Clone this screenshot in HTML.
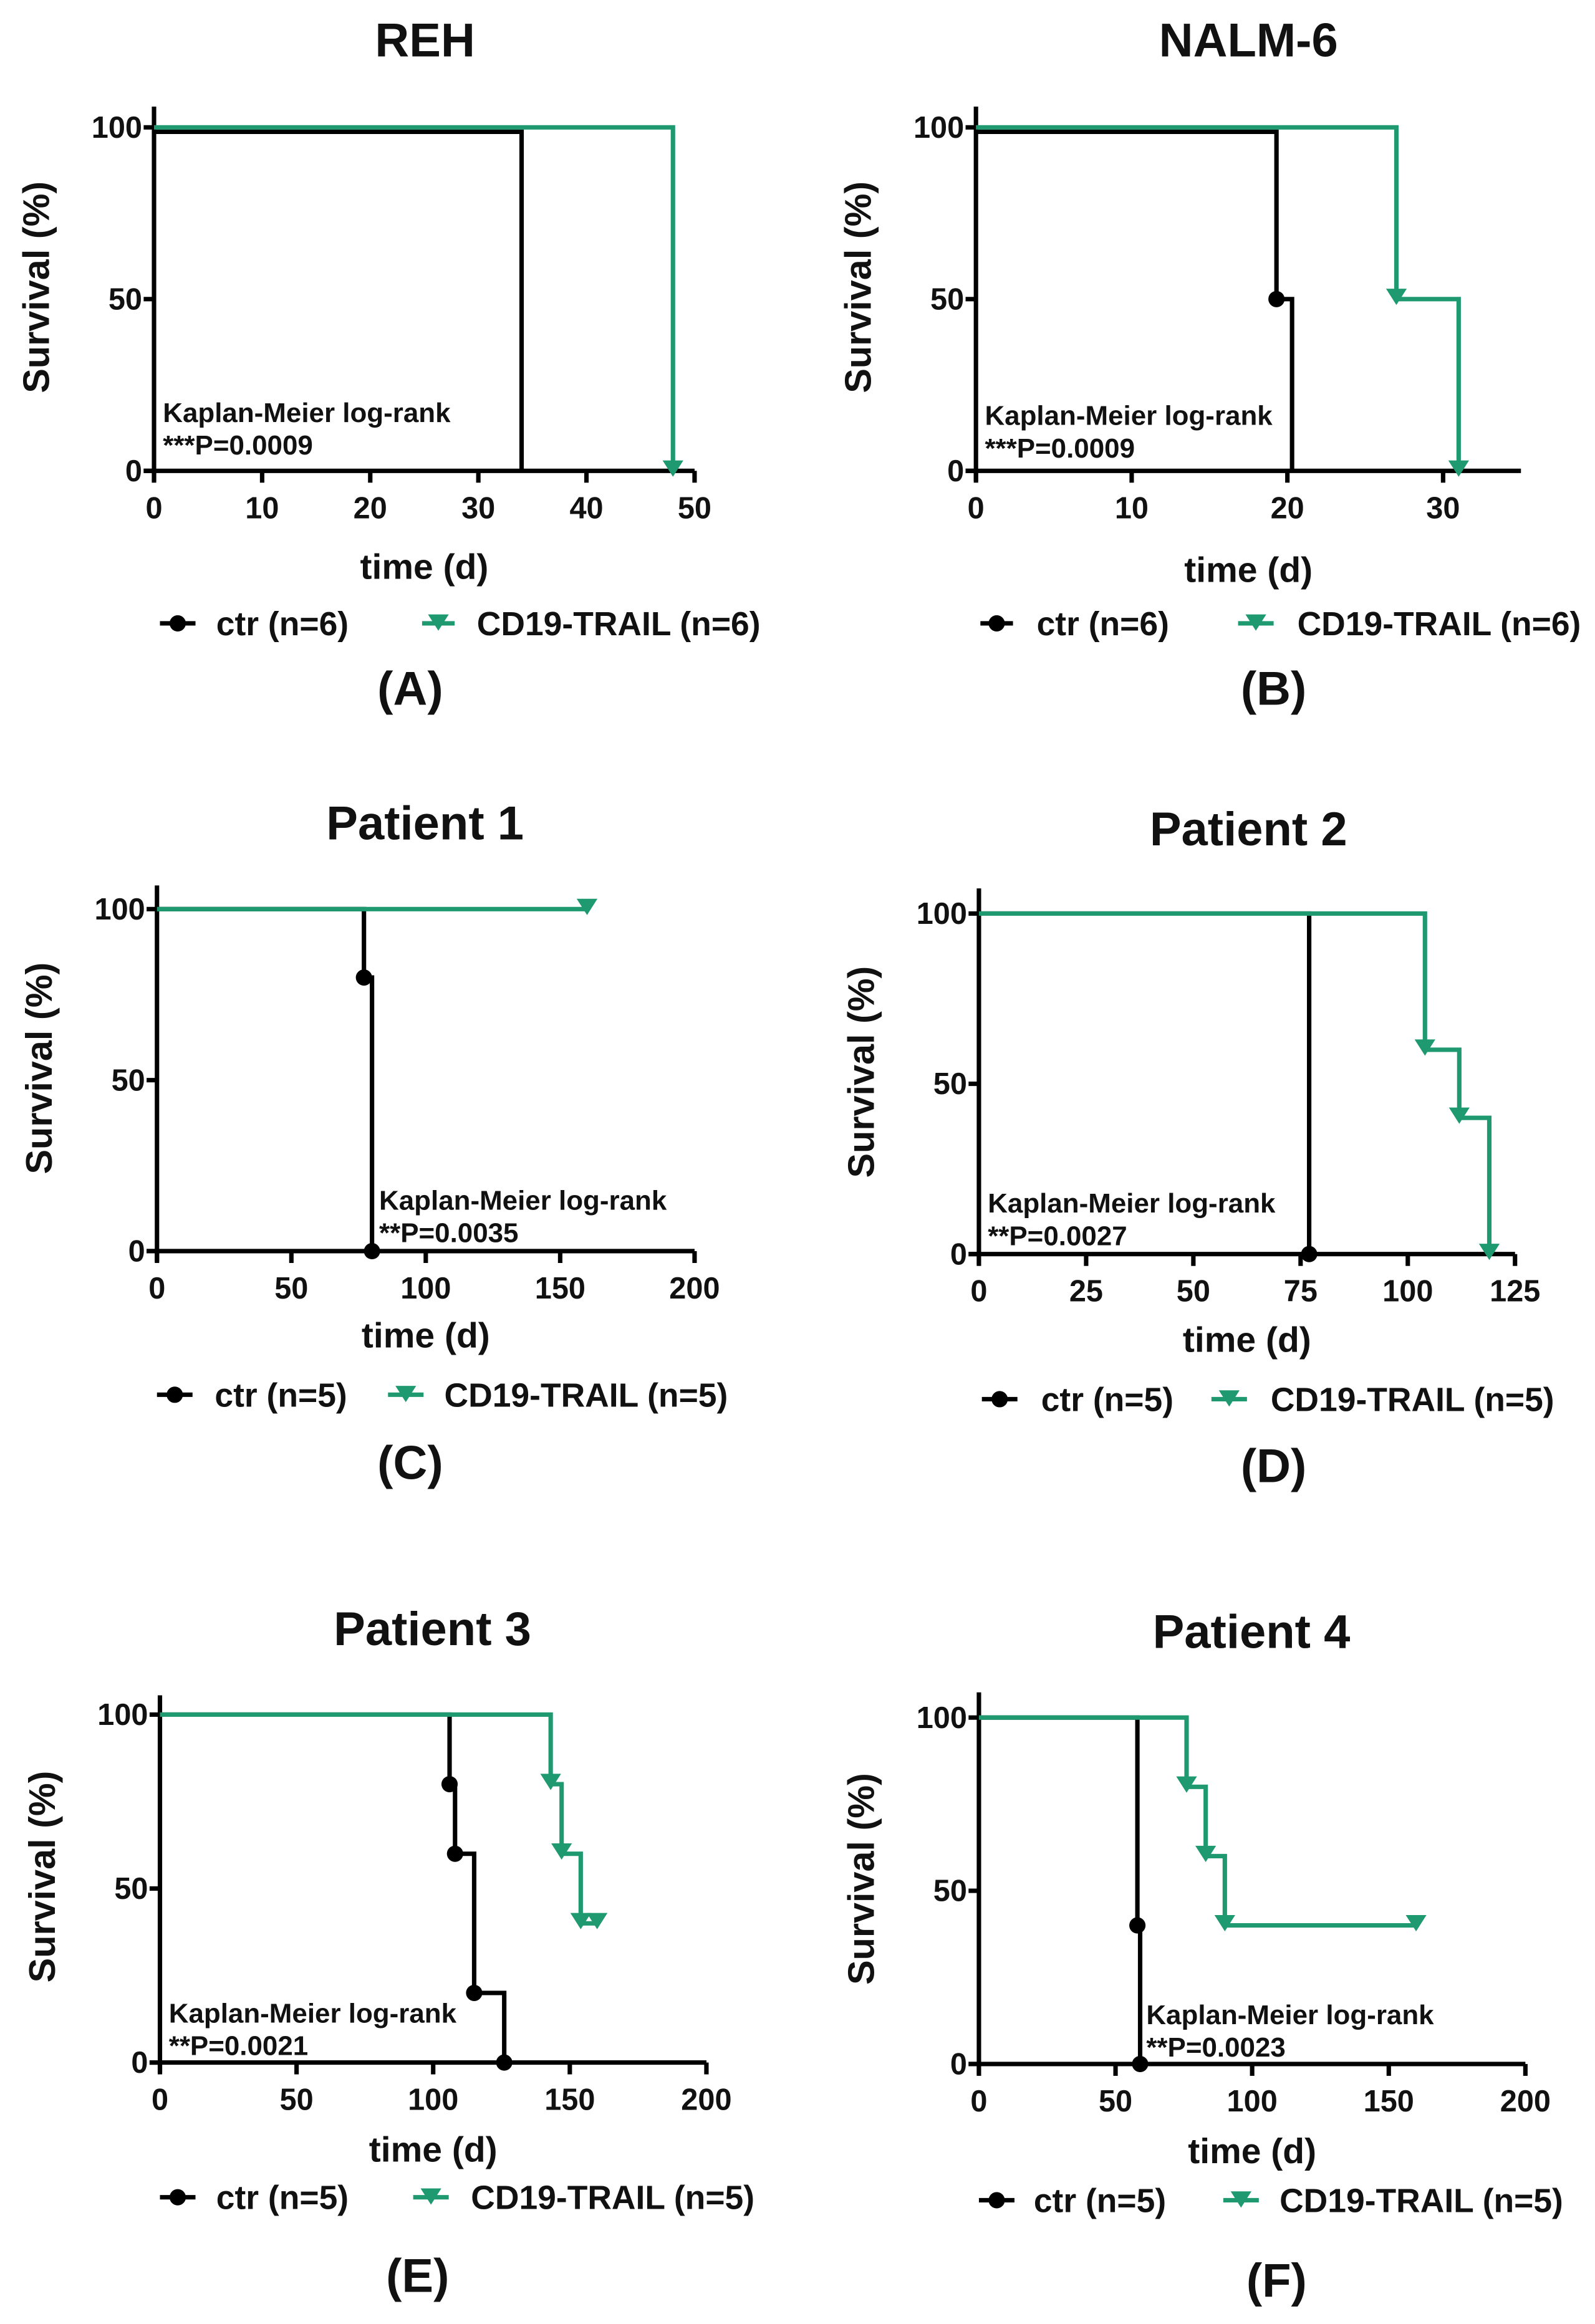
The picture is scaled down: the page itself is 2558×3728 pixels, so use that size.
<!DOCTYPE html>
<html><head><meta charset="utf-8"><style>
html,body{margin:0;padding:0;background:#fff;}
svg{display:block;}
text{font-family:"Liberation Sans",Arial,sans-serif;fill:#111;}
</style></head><body>
<svg id="fig" width="2558" height="3728" viewBox="0 0 1077 1569.6" preserveAspectRatio="none" xmlns="http://www.w3.org/2000/svg"></svg>
<script>
// ---- data (days, survival %) ----
const titles = ["REH","NALM-6","Patient 1","Patient 2","Patient 3","Patient 4"];
const panelLabels = ["(A)","(B)","(C)","(D)","(E)","(F)"];
const pValues = ["***P=0.0009","***P=0.0009","**P=0.0035","**P=0.0027","**P=0.0021","**P=0.0023"];
const nCtr = [6,6,5,5,5,5];
const nTrail = [6,6,5,5,5,5];
const xTicksA = [0,10,20,30,40,50];
const xTicksB = [0,10,20,30];
const xTicksC = [0,50,100,150,200];
const xTicksD = [0,25,50,75,100,125];
const xTicksE = [0,50,100,150,200];
const xTicksF = [0,50,100,150,200];
const yTicks = [0,50,100];
const ctrTimesA = [34];            const ctrSurvA = [0];
const trailTimesA = [48];          const trailSurvA = [0];
const ctrTimesB = [19.3,20.3];     const ctrSurvB = [50,0];
const trailTimesB = [27,31];       const trailSurvB = [50,0];
const ctrTimesC = [77,80];         const ctrSurvC = [80,0];
const trailTimesC = [];            const trailSurvC = [];
const trailCensorC = [160];
const ctrTimesD = [77];            const ctrSurvD = [0];
const trailTimesD = [104,112,119]; const trailSurvD = [60,40,0];
const ctrTimesE = [106,108,115,126]; const ctrSurvE = [80,60,20,0];
const trailTimesE = [143,147,154]; const trailSurvE = [80,60,40];
const trailCensorE = [160];
const ctrTimesF = [58,59];         const ctrSurvF = [40,0];
const trailTimesF = [76,83,90];    const trailSurvF = [80,60,40];
const trailCensorF = [160];

const GREEN = "#1f9a70";
const SW = 3;
const NS = "http://www.w3.org/2000/svg";
const svg = document.getElementById("fig");

function mk(tag, attrs, parent){
  const e = document.createElementNS(NS, tag);
  for (const k in attrs) e.setAttribute(k, attrs[k]);
  (parent||svg).appendChild(e);
  return e;
}

const layouts = [
 {cx:287,x0:104,x1:469,xmax:50,yTop:72,y100:86,y0:318,titleY:38,xlabY:391,legY:421,ctrL:[108,132,146],grL:[285,307,322],labY:476,kx:110,ky:285,off:3},
 {cx:843,x0:659,x1:1027,xmax:35,yTop:72,y100:86,y0:318,titleY:38,xlabY:393,legY:421,ctrL:[662,684,700],grL:[836,860,876],labY:476,kx:665,ky:287,off:3},
 {cx:287,x0:106,x1:469,xmax:200,yTop:598,y100:614,y0:845,titleY:567,xlabY:910,legY:942,ctrL:[106,130,145],grL:[262,286,300],labY:999,kx:256,ky:817,off:0},
 {cx:843,x0:661,x1:1023,xmax:125,yTop:600,y100:617,y0:847,titleY:571,xlabY:913,legY:945,ctrL:[663,687,703],grL:[818,842,858],labY:1001,kx:667,ky:819,off:0},
 {cx:292,x0:108,x1:477,xmax:200,yTop:1145,y100:1158,y0:1393,titleY:1111,xlabY:1460,legY:1484,ctrL:[108,132,146],grL:[279,303,318],labY:1548,kx:114,ky:1366,off:0},
 {cx:845,x0:661,x1:1030,xmax:200,yTop:1143,y100:1160,y0:1394,titleY:1113,xlabY:1461,legY:1486,ctrL:[661,685,698],grL:[826,850,864],labY:1551,kx:774,ky:1367,off:0}
];
const xTickSets = [xTicksA,xTicksB,xTicksC,xTicksD,xTicksE,xTicksF];
const ctrT = [ctrTimesA,ctrTimesB,ctrTimesC,ctrTimesD,ctrTimesE,ctrTimesF];
const ctrS = [ctrSurvA,ctrSurvB,ctrSurvC,ctrSurvD,ctrSurvE,ctrSurvF];
const trT = [trailTimesA,trailTimesB,trailTimesC,trailTimesD,trailTimesE,trailTimesF];
const trS = [trailSurvA,trailSurvB,trailSurvC,trailSurvD,trailSurvE,trailSurvF];
const trC = [[],[],trailCensorC,[],trailCensorE,trailCensorF];

function dot(x,y,g){
  const c = mk("circle",{cx:x,cy:y,r:5.5,fill:"#000"},g);
  
  
}
function tri(x,y,g){
  const p = mk("path",{d:`M${x-7},${y-7}L${x+7},${y-7}L${x},${y+4}Z`,fill:GREEN},g);
  
  
}

function stepPath(times, surv, censor, X, Y, dy){
  let d = `M${X(0)},${Y(100)+dy}`;
  let cur = 100;
  for (let i=0;i<times.length;i++){
    d += `L${X(times[i])},${Y(cur)+(cur===100?dy:0)}L${X(times[i])},${Y(surv[i])}`;
    cur = surv[i];
  }
  censor.forEach(t=>{ d += `L${X(t)},${Y(cur)+(cur===100?dy:0)}`; });
  return d;
}

layouts.forEach((L,i)=>{
  const g = mk("g",{});
  
  
  const X = v => L.x0 + (L.x1-L.x0)*v/L.xmax;
  const Y = v => L.y0 + (L.y100-L.y0)*v/100;

  const t = mk("text",{x:L.cx,y:L.titleY,"text-anchor":"middle","font-size":32,"font-weight":"bold"},g);
  t.textContent = titles[i];
  
  

  const ya = mk("line",{x1:L.x0,y1:L.yTop,x2:L.x0,y2:L.y0+7,stroke:"#000","stroke-width":SW},g);
  
  
  const xa = mk("line",{x1:L.x0-7,y1:L.y0,x2:L.x1,y2:L.y0,stroke:"#000","stroke-width":SW},g);
  
  
  yTicks.forEach(v=>{
    mk("line",{x1:L.x0-7,y1:Y(v),x2:L.x0,y2:Y(v),stroke:"#000","stroke-width":SW},g);
    const tl = mk("text",{x:L.x0-8,y:Y(v)+7,"text-anchor":"end","font-size":20.5,"font-weight":"bold"},g);
    tl.textContent = v;
    
    
  });
  xTickSets[i].forEach(v=>{
    mk("line",{x1:X(v),y1:L.y0,x2:X(v),y2:L.y0+8,stroke:"#000","stroke-width":SW},g);
    const tl = mk("text",{x:X(v),y:L.y0+32,"text-anchor":"middle","font-size":20.5,"font-weight":"bold"},g);
    tl.textContent = v;
    
    
  });
  const yl = mk("text",{x:0,y:0,"text-anchor":"middle","font-size":25,"font-weight":"bold",transform:`translate(${L.x0-71},${(L.y100+L.y0)/2-8}) rotate(-90)`},g);
  yl.textContent = "Survival (%)";
  
  
  const xl = mk("text",{x:(L.x0+L.x1)/2,y:L.xlabY,"text-anchor":"middle","font-size":24,"font-weight":"bold"},g);
  xl.textContent = "time (d)";
  
  

  const k1 = mk("text",{x:L.kx,y:L.ky,"font-size":18.5,"font-weight":"bold"},g);
  k1.textContent = "Kaplan-Meier log-rank";
  
  
  const k2 = mk("text",{x:L.kx,y:L.ky+22,"font-size":18.5,"font-weight":"bold"},g);
  k2.textContent = pValues[i];
  
  

  const cp = mk("path",{d:stepPath(ctrT[i],ctrS[i],[],X,Y,L.off),fill:"none",stroke:"#000","stroke-width":SW},g);
  
  
  const gp = mk("path",{d:stepPath(trT[i],trS[i],trC[i],X,Y,0),fill:"none",stroke:GREEN,"stroke-width":SW},g);
  
  
  if (i>=2) ctrT[i].forEach((tm,j)=>dot(X(tm),Y(ctrS[i][j]),g));
  else if (ctrT[i].length>1) dot(X(ctrT[i][0]),Y(ctrS[i][0]),g);
  trT[i].forEach((tm,j)=>tri(X(tm),Y(trS[i][j]),g));
  let last = trS[i].length ? trS[i][trS[i].length-1] : 100;
  trC[i].forEach(tm=>tri(X(tm),Y(last),g));

  const lg = mk("g",{},g);
  
  
  mk("line",{x1:L.ctrL[0],y1:L.legY,x2:L.ctrL[1],y2:L.legY,stroke:"#000","stroke-width":SW},lg);
  dot((L.ctrL[0]+L.ctrL[1])/2,L.legY,lg);
  const lt1 = mk("text",{x:L.ctrL[2],y:L.legY+8,"font-size":22.5,"font-weight":"bold"},lg);
  lt1.textContent = `ctr (n=${nCtr[i]})`;
  
  
  mk("line",{x1:L.grL[0],y1:L.legY,x2:L.grL[1],y2:L.legY,stroke:GREEN,"stroke-width":SW},lg);
  tri((L.grL[0]+L.grL[1])/2,L.legY+1,lg);
  const lt2 = mk("text",{x:L.grL[2],y:L.legY+8,"font-size":22.5,"font-weight":"bold"},lg);
  lt2.textContent = `CD19-TRAIL (n=${nTrail[i]})`;
  
  

  const pl = mk("text",{x:L.cx+(i%2===1?17:-10),y:L.labY,"text-anchor":"middle","font-size":32,"font-weight":"bold"},g);
  pl.textContent = panelLabels[i];
  
  
});
</script>
</body></html>
